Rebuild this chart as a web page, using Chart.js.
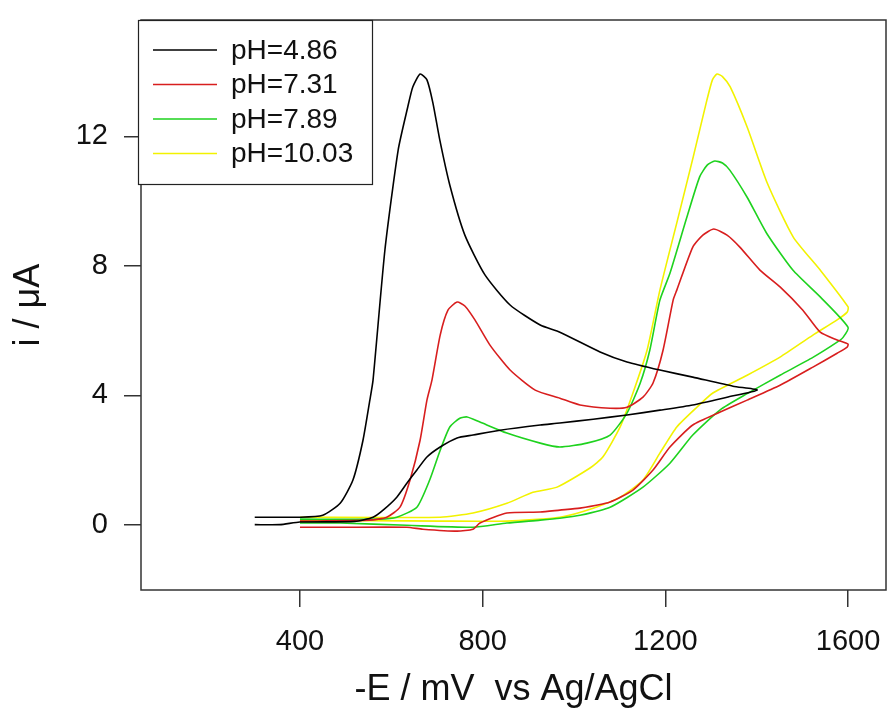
<!DOCTYPE html>
<html>
<head>
<meta charset="utf-8">
<script src="https://cdn.jsdelivr.net/npm/chart.js@4.4.1/dist/chart.umd.min.js"></script>
<style>
  html,body{margin:0;padding:0;background:#fff;}
  canvas{display:block;}
</style>
</head>
<body>
<canvas id="cv" width="887" height="716"></canvas>
<script>
// cyclic voltammograms at four pH values
const xTicks = [400, 800, 1200, 1600];
const yTicks = [0, 4, 8, 12];
const seriesNames = ['pH=4.86', 'pH=7.31', 'pH=7.89', 'pH=10.03'];
const seriesColors = ['#000000', '#d81e1e', '#1ed21e', '#f2f200'];

// pH 4.86: forward scan then return
const ph486E = [301,400,450,488,516,538,553,560,586,615,636,647,663,678,691,706,728,761,805,860,926,969,1057,1116,1188,1260,1348,1401,
  1335,1260,1188,1116,1042,969,926,838,779,744,707,678,656,634,612,582,560,520,400,356,301];
const ph486I = [0.23,0.23,0.29,0.66,1.38,2.61,3.85,4.47,8.49,11.58,12.91,13.53,13.93,13.75,13.04,11.9,10.5,8.95,7.72,6.79,6.17,5.95,5.34,5.03,4.78,4.56,4.28,4.16,
  3.94,3.70,3.54,3.39,3.26,3.14,3.08,2.92,2.77,2.68,2.40,2.09,1.69,1.28,0.85,0.45,0.23,0.10,0.08,0.0,0.0];

// pH 7.31
const ph731E = [400,553,590,619,641,663,678,689,707,724,744,761,783,816,860,915,969,1013,1079,1116,1151,1173,1195,1217,1225,1260,1282,1306,1335,1363,1407,1451,1501,1539,1576,1600,
  1598,1576,1523,1451,1379,1320,1260,1210,1173,1129,1079,1013,969,926,853,794,779,744,669,634,488,400];
const ph731I = [0.11,0.14,0.23,0.54,1.38,2.61,3.85,4.47,5.86,6.63,6.88,6.76,6.33,5.55,4.78,4.16,3.91,3.70,3.60,3.63,3.94,4.38,5.40,6.94,7.25,8.58,8.95,9.14,8.95,8.58,7.87,7.35,6.63,5.95,5.71,5.58,
  5.49,5.30,4.87,4.31,3.85,3.48,3.08,2.40,1.69,1.07,0.70,0.51,0.45,0.39,0.36,0.05,-0.14,-0.20,-0.14,-0.08,-0.08,-0.08];

// pH 7.89
const ph789E = [400,575,612,656,684,707,728,750,766,794,853,926,969,1028,1079,1116,1145,1166,1188,1210,1247,1275,1292,1308,1325,1341,1379,1422,1479,1539,1600,
  1589,1576,1523,1451,1379,1320,1260,1210,1151,1079,1013,969,926,853,779,634,488,400];
const ph789I = [0.17,0.17,0.23,0.54,1.38,2.30,3.02,3.29,3.33,3.17,2.83,2.52,2.40,2.52,2.77,3.45,4.38,5.40,6.94,7.77,9.50,10.75,11.12,11.24,11.18,10.96,10.12,9.00,7.87,7.04,6.10,
  5.79,5.64,5.17,4.62,4.05,3.55,2.77,1.90,1.16,0.54,0.29,0.20,0.14,0.05,-0.08,-0.02,0.05,0.05];

// pH 10.03
const ph1003E = [400,707,779,853,910,963,1035,1063,1101,1129,1160,1188,1225,1261,1291,1303,1313,1325,1342,1379,1423,1480,1539,1600,
  1598,1576,1523,1451,1379,1304,1269,1225,1188,1151,1101,1042,969,853,707,400];
const ph1003I = [0.23,0.23,0.36,0.66,1.0,1.16,1.75,2.09,3.02,4.07,5.40,7.25,9.33,11.37,13.13,13.75,13.93,13.85,13.53,12.29,10.56,8.89,7.87,6.73,
  6.57,6.33,5.86,5.18,4.62,4.07,3.63,3.02,2.21,1.38,0.85,0.51,0.23,0.11,0.11,0.14];

const allE = [ph486E, ph731E, ph789E, ph1003E];
const allI = [ph486I, ph731I, ph789I, ph1003I];

const FONT = 'Liberation Sans, Arial, sans-serif';

function pts(E, I){ return E.map((e,i)=>({x:e, y:I[i]})); }

// keep tick labels from pushing the plot area around
function noPad(s){ s.paddingTop = 0; s.paddingBottom = 0; s.paddingLeft = 0; s.paddingRight = 0; }

// plot frame on all four sides
const framePlugin = {
  id:'frame',
  afterDraw(chart){
    const {ctx, chartArea:a} = chart;
    ctx.save();
    ctx.strokeStyle = '#333'; ctx.lineWidth = 1.5;
    ctx.strokeRect(a.left, a.top, a.right-a.left, a.bottom-a.top);
    ctx.restore();
  }
};

// boxed legend in the upper left corner
const legendBox = {
  id:'legendBox',
  afterDraw(chart){
    const ctx = chart.ctx;
    const x = 138, y = 20, w = 234, h = 164;
    ctx.save();
    ctx.fillStyle = '#fff'; ctx.fillRect(x, y, w, h);
    ctx.strokeStyle = '#222'; ctx.lineWidth = 1.2;
    ctx.strokeRect(x+0.5, y+0.5, w, h);
    ctx.font = '28px ' + FONT;
    ctx.textBaseline = 'middle';
    seriesNames.forEach((name,i)=>{
      const ly = 50 + i*34.5;
      ctx.strokeStyle = seriesColors[i]; ctx.lineWidth = 1.5;
      ctx.beginPath(); ctx.moveTo(153, ly); ctx.lineTo(217, ly); ctx.stroke();
      ctx.fillStyle = '#111';
      ctx.fillText(name, 231, ly+1);
    });
    ctx.restore();
  }
};

new Chart(document.getElementById('cv'), {
  type:'scatter',
  data:{
    datasets: seriesNames.map((n,i)=>({
      label:n, data:pts(allE[i], allI[i]), showLine:true,
      borderColor:seriesColors[i], backgroundColor:seriesColors[i],
      borderWidth:1.6, pointRadius:0, tension:0.2, fill:false
    }))
  },
  options:{
    responsive:false, animation:false,
    layout:{padding:{top:20, right:1, left:0, bottom:0}},
    plugins:{legend:{display:false}, tooltip:{enabled:false}},
    scales:{
      x:{
        type:'linear', min:52, max:1683,
        afterBuildTicks:s=>{ s.ticks = xTicks.map(v=>({value:v})); },
        afterFit:s=>{ s.height = 126; noPad(s); },
        grid:{drawOnChartArea:false, drawTicks:true, tickLength:17, color:'#333', lineWidth:1.5},
        border:{display:false},
        ticks:{callback:v=>String(v), font:{family:FONT, size:29}, color:'#111', padding:18, maxRotation:0},
        title:{display:true, text:'-E / mV  vs Ag/AgCl', font:{family:FONT, size:36}, color:'#111', padding:{top:0, bottom:4}}
      },
      y:{
        type:'linear', min:-2.02, max:15.6,
        afterBuildTicks:s=>{ s.ticks = yTicks.map(v=>({value:v})); },
        afterFit:s=>{ s.width = 141; noPad(s); },
        grid:{drawOnChartArea:false, drawTicks:true, tickLength:17, color:'#333', lineWidth:1.5},
        border:{display:false},
        ticks:{callback:v=>String(v), font:{family:FONT, size:29}, color:'#111', padding:16},
        title:{display:true, text:'i / μA', font:{family:FONT, size:36}, color:'#111', padding:{top:7, bottom:0}}
      }
    }
  },
  plugins:[framePlugin, legendBox]
});
</script>
</body>
</html>
